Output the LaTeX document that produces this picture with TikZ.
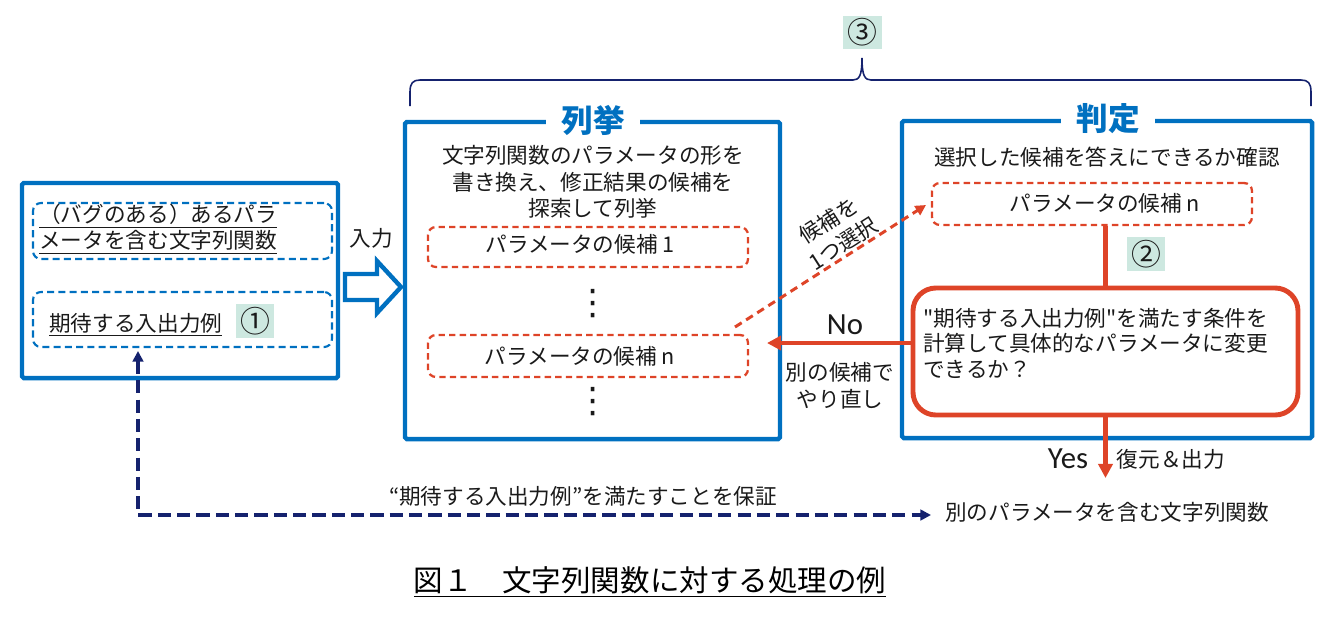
\documentclass[tikz,border=0pt]{standalone}
\usepackage{fontspec}
\setmainfont{Noto Sans CJK JP}
\newfontfamily\plainjp{Noto Sans CJK JP}
\newfontfamily\latinfont{Carlito}
\newfontfamily\dejavu{DejaVu Sans}
\usetikzlibrary{fit,arrows.meta}
\definecolor{boxblue}{HTML}{0070C0}
\definecolor{cred}{HTML}{DE4428}
\definecolor{cnavy}{HTML}{15226E}
\definecolor{numbg}{HTML}{CDE8E0}
\definecolor{txtc}{HTML}{1A1A1A}
\begin{document}
\begin{tikzpicture}[x=0.02cm,y=-0.02cm,
  txt/.style={font=\fontsize{12.3}{15}\selectfont, text=txtc, inner sep=0pt},
  bluebox/.style={draw=boxblue, line width=2.55pt, inner sep=0pt, rounded corners=1pt},
  bdash/.style={draw=boxblue, line width=1.2pt, dash pattern=on 4pt off 2.4pt, rounded corners=4.5pt, inner sep=0pt},
  rdash/.style={draw=cred, line width=1.3pt, dash pattern=on 3.6pt off 2.4pt, rounded corners=4.5pt, inner sep=0pt},
  rbox/.style={draw=cred, line width=2.8pt, rounded corners=13pt, inner sep=0pt},
  titlebox/.style={font=\fontsize{18}{20}\bfseries\selectfont, text=boxblue, fill=white, inner xsep=8.5pt, inner ysep=1pt},
  numbox/.style={fill=numbg, minimum width=0.76cm, minimum height=0.68cm, inner sep=0pt, font=\fontsize{17}{17}\selectfont, text=txtc},
  dotcol/.style={font=\dejavu\fontsize{20}{20}\selectfont, inner sep=0pt, text=txtc},
  redline/.style={draw=cred, line width=2.3pt},
  redarrow/.style={draw=cred, line width=2.3pt, -{Triangle[length=8pt,width=8pt]}},
  rdasharrow/.style={draw=cred, line width=1.7pt, dash pattern=on 4.5pt off 3pt, -{Triangle[length=6pt,width=6pt]}},
  navyarrow/.style={draw=cnavy, line width=2.2pt, dash pattern=on 7.5pt off 3.5pt, {Triangle[length=6pt,width=6pt]}-{Triangle[length=6pt,width=6pt]}},
  yesno/.style={font=\latinfont\fontsize{17.5}{20}\selectfont, text=txtc, inner sep=0pt},
]
\path[use as bounding box] (0,0) rectangle (1336,620);

% ---------- left input box ----------
\node[bluebox, fit={(22,183)(338,378)}] (in) {};
\node[bdash, fit={(33,203)(332,259)}] (fn) {};
\node[txt, anchor=west, align=left] (fntxt) at (39,229) {\underline{（バグのある）あるパラ}\\\underline{メータを含む文字列関数}};
\node[bdash, fit={(33,292)(332,347)}] (ex) {};
\node[txt, anchor=west] (extxt) at (49,325) {\underline{期待する入出力例}};
\node[numbox] (n1) at (255,321) {①};

\node[txt] (intxt) at (371,238) {入力};
\draw[boxblue, line width=2.5pt, line join=miter, fill=white]
  (345,274) -- (377,274) -- (377,261) -- (401,287) -- (377,313) -- (377,300) -- (345,300) -- cycle;

% ---------- enumeration box ----------
\node[bluebox, fit={(405,122)(780,439)}] (enum) {};
\node[titlebox] (enumtitle) at (593,120) {列挙};
\node[txt, align=center, font=\fontsize{12.3}{15}\selectfont] (enumtxt) at (593,182) {文字列関数のパラメータの形を\\書き換え、修正結果の候補を\\探索して列挙};
\node[rdash, fit={(428,227)(748,267)}] (c1) {};
\node[txt] (c1txt) at (580,244) {パラメータの候補 1};
\node[dotcol] (dots1) at (593,304) {⋮};
\node[rdash, fit={(428,335)(748,377)}] (cn) {};
\node[txt] (cntxt) at (580,356) {パラメータの候補 n};
\node[dotcol] (dots2) at (593,402) {⋮};

% ---------- judge box ----------
\node[bluebox, fit={(902,121)(1312,438)}] (judge) {};
\node[titlebox] (judgetitle) at (1108,119) {判定};
\node[txt] (judgetxt) at (1107,157) {選択した候補を答えにできるか確認};
\node[rdash, fit={(932,183)(1252,225)}] (sel) {};
\node[txt] (seltxt) at (1105,203) {パラメータの候補 n};
\node[numbox] (n2) at (1146,254) {②};
\node[rbox, fit={(913,288)(1298,415)}] (chk) {};
\node[txt, anchor=west, align=left, font=\plainjp\fontsize{12.3}{14.5}\selectfont] (chktxt) at (923,343) {"期待する入出力例"を満たす条件を\\計算して具体的なパラメータに変更\\できるか？};
\draw[redline] (chk.north) -- (chk.north |- sel.south);

% No arrow
\coordinate (noTip) at (767,343);
\draw[redarrow] (chk.west |- noTip) -- (noTip);
\node[yesno] (no) at (845,325) {No};
\node[txt, align=center, font=\fontsize{12.3}{15.5}\selectfont] (retry) at (840,386) {別の候補で\\やり直し};

% select arrow
\coordinate (selStart) at (735,327);
\coordinate (selEnd) at (926,205);
\draw[rdasharrow] (selStart) -- (selEnd);
\node[txt, rotate=32.5, align=center, font=\fontsize{12.3}{15.5}\selectfont] (sellbl) at (836,232) {候補を\\1つ選択};

% Yes arrow
\coordinate (yesTip) at (1106,478);
\draw[redarrow] (chk.south) -- (chk.south |- yesTip);
\node[yesno] (yes) at (1068,459) {Yes};
\node[txt] (restore) at (1171,459) {復元＆出力};

% ---------- output ----------
\node[txt, anchor=west] (out) at (945,512) {別のパラメータを含む文字列関数};
\node[txt] (guar) at (583,496) {“期待する入出力例”を満たすことを保証};
\coordinate (gUp) at (138,351);
\coordinate (gCorner) at (138,515);
\coordinate (gEnd) at (931,515);
\draw[navyarrow] (gUp) -- (gCorner) -- (gEnd);

% ---------- brace ----------
\draw[cnavy, line width=0.9pt]
  (410,106) -- (410,92) .. controls (410,83) and (413,80) .. (420,80) -- (853,80)
  .. controls (859,80) and (862,76) .. (862,58)
  .. controls (862,76) and (865,80) .. (871,80) -- (1301,80)
  .. controls (1308,80) and (1311,83) .. (1311,92) -- (1311,106);
\node[numbox, minimum width=0.78cm, minimum height=0.66cm] (n3) at (862,32) {③};

% ---------- caption ----------
\node[font=\fontsize{16.8}{20}\selectfont, text=black, inner sep=0pt] (cap) at (650,582) {\underline{図１　文字列関数に対する処理の例}};
\end{tikzpicture}
\end{document}
